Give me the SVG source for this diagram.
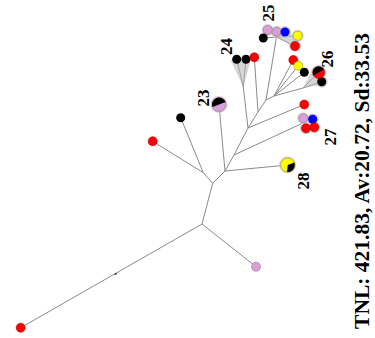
<svg xmlns="http://www.w3.org/2000/svg" width="375" height="338" viewBox="0 0 375 338">
  <style>
    .edge { stroke: #8a8a8a; stroke-width: 1; fill: none; }
    .fan { fill: #b4b4b4; fill-opacity: 0.55; stroke: none; }
    .halo { fill: #c8c8c8; fill-opacity: 0.8; }
    .red { fill: #ff0000; stroke: #aa0000; stroke-width: 0.6; }
    .blk { fill: #000000; }
    .yel { fill: #ffff00; stroke: #888800; stroke-width: 0.5; }
    .blu { fill: #0000ff; }
    .pnk { fill: #d8a0d6; stroke: #9a6f98; stroke-width: 0.6; }
    .lbl { font-family: "Liberation Serif", "Times New Roman", serif; font-weight: bold; font-size: 17px; fill: #000; text-anchor: middle; }
    .cap { font-family: "Liberation Serif", "Times New Roman", serif; font-weight: bold; font-size: 21.5px; fill: #000; text-anchor: middle; }
  </style>

  <!-- branches -->
  <g id="connectors">
    <line class="edge" x1="20.7" y1="327.7" x2="202" y2="224"/>
    <line class="edge" x1="202" y1="224" x2="256" y2="266.7"/>
    <line class="edge" x1="202" y1="224" x2="212.7" y2="183.3"/>
    <line class="edge" x1="212.7" y1="183.3" x2="203.3" y2="172.7"/>
    <line class="edge" x1="203.3" y1="172.7" x2="152.7" y2="141.3"/>
    <line class="edge" x1="203.3" y1="172.7" x2="180.7" y2="117.7"/>
    <line class="edge" x1="212.7" y1="183.3" x2="225" y2="171"/>
    <line class="edge" x1="225" y1="171" x2="219" y2="104.5"/>
    <line class="edge" x1="225" y1="171" x2="287.7" y2="165"/>
    <line class="edge" x1="225" y1="171" x2="234" y2="155"/>
    <line class="edge" x1="234" y1="155" x2="303" y2="123"/>
    <line class="edge" x1="234" y1="155" x2="248" y2="128"/>
    <line class="edge" x1="248" y1="128" x2="304.3" y2="104.5"/>
    <line class="edge" x1="248" y1="128" x2="243.3" y2="87"/>
    <line class="edge" x1="248" y1="128" x2="258" y2="112"/>
    <line class="edge" x1="258" y1="112" x2="254.3" y2="57.3"/>
    <line class="edge" x1="258" y1="112" x2="266" y2="100"/>
    <line class="edge" x1="266" y1="100" x2="276.5" y2="37"/>
    <line class="edge" x1="266" y1="100" x2="274" y2="96"/>
    <line class="edge" x1="274" y1="96" x2="293.3" y2="60"/>
    <line class="edge" x1="274" y1="96" x2="298.3" y2="65.7"/>
    <line class="edge" x1="274" y1="96" x2="304.3" y2="72.3"/>
    <line class="edge" x1="274" y1="96" x2="303" y2="88"/>
    <!-- collapsed-clade spokes -->
    <line class="edge" x1="243.3" y1="87" x2="236.7" y2="59.3"/>
    <line class="edge" x1="243.3" y1="87" x2="246" y2="59.3"/>
    <line class="edge" x1="276.5" y1="37" x2="263.3" y2="38"/>
    <line class="edge" x1="276.5" y1="37" x2="267.7" y2="30"/>
    <line class="edge" x1="276.5" y1="37" x2="276.7" y2="31.7"/>
    <line class="edge" x1="276.5" y1="37" x2="285" y2="32"/>
    <line class="edge" x1="276.5" y1="37" x2="297.7" y2="35.7"/>
    <line class="edge" x1="276.5" y1="37" x2="295" y2="46"/>
    <line class="edge" x1="303" y1="88" x2="318.7" y2="72.5"/>
    <line class="edge" x1="303" y1="88" x2="321.7" y2="81.7"/>
    <!-- tick on the root branch -->
    <line x1="114.8" y1="274.5" x2="116.6" y2="273.5" stroke="#000" stroke-width="1.2"/>
  </g>

  <!-- shaded clade wedges -->
  <g id="wedges">
    <polygon class="fan" points="243.3,87 230.5,60 251,59"/>
    <polygon class="fan" points="276.5,37 300,33 299,50"/>
    <polygon class="fan" points="303,88 314,66 327,84"/>
  </g>

  <g id="n-root-red"><circle class="red" cx="20.7" cy="327.7" r="4.5"/></g>
  <g id="n-pink"><circle class="pnk" cx="256" cy="266.7" r="4.5"/></g>
  <g id="n-red-left"><circle class="red" cx="152.7" cy="141.3" r="4.5"/></g>
  <g id="n-black-left"><circle class="blk" cx="180.7" cy="117.7" r="4.5"/></g>

  <g id="n23">
    <circle class="halo" cx="219" cy="104.5" r="8.5"/>
    <circle class="pnk" cx="219" cy="104.5" r="7"/>
    <path class="blk" d="M219,104.5 L225.6,102.1 A7,7 0 0 0 212.4,106.9 Z"/>
    <text class="lbl" transform="translate(208.5,98) rotate(-90)">23</text>
  </g>

  <g id="n24">
    <circle class="blk" cx="236.7" cy="59.3" r="4.5"/>
    <circle class="blk" cx="246" cy="59.3" r="4.5"/>
    <circle class="red" cx="254.3" cy="57.3" r="4.5"/>
    <text class="lbl" transform="translate(232,46.5) rotate(-90)">24</text>
  </g>

  <g id="n25">
    <circle class="halo" cx="267.7" cy="30" r="6"/>
    <circle class="halo" cx="276.7" cy="31.7" r="6"/>
    <circle class="halo" cx="285" cy="32" r="6"/>
    <circle class="halo" cx="297.7" cy="35.7" r="6"/>
    <circle class="halo" cx="295" cy="46" r="6"/>
    <circle class="pnk" cx="267.7" cy="30" r="4.5"/>
    <circle class="pnk" cx="276.7" cy="31.7" r="4.5"/>
    <circle class="blu" cx="285" cy="32" r="4.5"/>
    <circle class="yel" cx="297.7" cy="35.7" r="4.5"/>
    <circle class="blk" cx="263.3" cy="38" r="4.5"/>
    <circle class="red" cx="295" cy="46" r="4.5"/>
    <text class="lbl" transform="translate(273.5,13) rotate(-90)">25</text>
  </g>

  <g id="n26">
    <circle class="red" cx="293.3" cy="60" r="4.5"/>
    <circle class="yel" cx="298.3" cy="65.7" r="4.5"/>
    <circle class="blk" cx="304.3" cy="72.3" r="4.5"/>
    <circle class="halo" cx="318.7" cy="72.5" r="7.5"/>
    <circle class="halo" cx="321.7" cy="81.7" r="6"/>
    <circle class="blk" cx="321.7" cy="81.7" r="4.5"/>
    <circle class="red" cx="318.7" cy="72.5" r="6"/>
    <path class="blk" d="M318.7,72.5 L323.9,69.5 A6,6 0 0 0 313.5,75.5 Z"/>
    <text class="lbl" transform="translate(333,59) rotate(-90)">26</text>
  </g>

  <g id="n27">
    <circle class="halo" cx="303.3" cy="118.3" r="6"/>
    <circle class="halo" cx="312.7" cy="119.3" r="6"/>
    <circle class="halo" cx="314.3" cy="127.3" r="6"/>
    <circle class="halo" cx="306" cy="128.3" r="6"/>
    <circle class="red" cx="304.3" cy="104.5" r="4.5"/>
    <circle class="pnk" cx="303.3" cy="118.3" r="4.5"/>
    <circle class="blu" cx="312.7" cy="119.3" r="4.5"/>
    <circle class="red" cx="314.3" cy="127.3" r="4.5"/>
    <circle class="red" cx="306" cy="128.3" r="4.5"/>
    <text class="lbl" transform="translate(336,137) rotate(-90)">27</text>
  </g>

  <g id="n28">
    <circle class="halo" cx="287.7" cy="165" r="8.5"/>
    <circle class="yel" cx="287.7" cy="165" r="7"/>
    <path class="blk" d="M287.7,165 L294.3,162.6 A7,7 0 0 1 287.1,172 Z"/>
    <text class="lbl" transform="translate(308.5,181) rotate(-90)">28</text>
  </g>

  <g id="caption">
    <text class="cap" transform="translate(368.5,181) rotate(-90)">TNL: 421.83, Av:20.72, Sd:33.53</text>
  </g>
</svg>
